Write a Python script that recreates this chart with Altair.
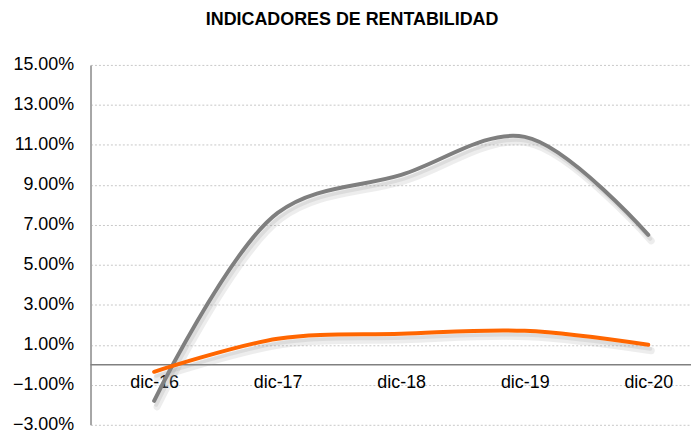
import altair as alt
import pandas as pd

periods = ["dic-16", "dic-17", "dic-18", "dic-19", "dic-20"]
roe = [-1.8, 7.6, 9.5, 11.4, 6.5]
roa = [-0.35, 1.3, 1.55, 1.7, 1.0]
series_names = ["ROE", "ROA"]
series_colors = ["#7F7F7F", "#FF6600"]
y_ticks = [-3, -1, 1, 3, 5, 7, 9, 11, 13, 15]

rows = []
for name, vals in zip(series_names, [roe, roa]):
    for i, (p, v) in enumerate(zip(periods, vals)):
        rows.append({"idx": i, "periodo": p, "serie": name, "valor": v / 100})
df = pd.DataFrame(rows)

W, H = 604, 362
FONT = "Liberation Sans"
label_expr = "[" + ",".join(f"'{p}'" for p in periods) + "][datum.value]"

x_enc = alt.X(
    "idx:Q",
    scale=alt.Scale(domain=[-0.515, 4.346], nice=False, zero=False),
    axis=alt.Axis(
        title=None, domain=False, ticks=False, grid=False, labelAngle=0,
        values=list(range(len(periods))), labelExpr=label_expr,
        labelFontSize=18, labelFont=FONT, labelColor="#000000",
        labelPadding=9, offset=-H * 3 / 18, labelFlush=False,
    ),
)
y_scale = alt.Scale(domain=[-0.03, 0.15], nice=False, zero=False)
y_enc = alt.Y(
    "valor:Q",
    scale=y_scale,
    axis=alt.Axis(
        title=None, values=[t / 100 for t in y_ticks], format=".2%",
        labelFontSize=18, labelFont=FONT, labelColor="#000000",
        labelPadding=17, ticks=False,
        domainColor="#A6A6A6", domainWidth=2,
        grid=True, gridColor="#C8C8C8", gridDash=[2, 2], gridWidth=1,
    ),
)

base = alt.Chart(df)

layers = []
layers.append(
    alt.Chart(pd.DataFrame({"z": [0.0]})).mark_rule(color="#808080", strokeWidth=1.5)
    .encode(y=alt.Y("z:Q", scale=y_scale))
)
for name, col in zip(series_names, series_colors):
    sub = base.transform_filter(alt.datum.serie == name)
    layers.append(
        sub.mark_line(interpolate="catmull-rom", color="#9A9A9A", strokeWidth=7,
                      opacity=0.18, xOffset=3, yOffset=6, strokeCap="round")
        .encode(x=x_enc, y=y_enc)
    )
    layers.append(
        sub.mark_line(interpolate="catmull-rom", color="#9A9A9A", strokeWidth=4,
                      opacity=0.2, xOffset=2, yOffset=4, strokeCap="round")
        .encode(x=x_enc, y=y_enc)
    )
    layers.append(
        sub.mark_line(interpolate="catmull-rom", color=col, strokeWidth=4, strokeCap="round")
        .encode(x=x_enc, y=y_enc)
    )

chart = (
    alt.layer(*layers)
    .properties(
        width=W, height=H,
        padding={"left": 4, "top": 2, "right": 0, "bottom": 0},
        title=alt.TitleParams(
            "INDICADORES DE RENTABILIDAD", fontSize=18, font=FONT,
            fontWeight="bold", anchor="middle", frame="bounds", offset=27,
            color="#000000",
        ),
    )
    .configure_view(strokeWidth=0)
)

chart.save("out.html", embed_options={"renderer": "svg", "actions": False})
